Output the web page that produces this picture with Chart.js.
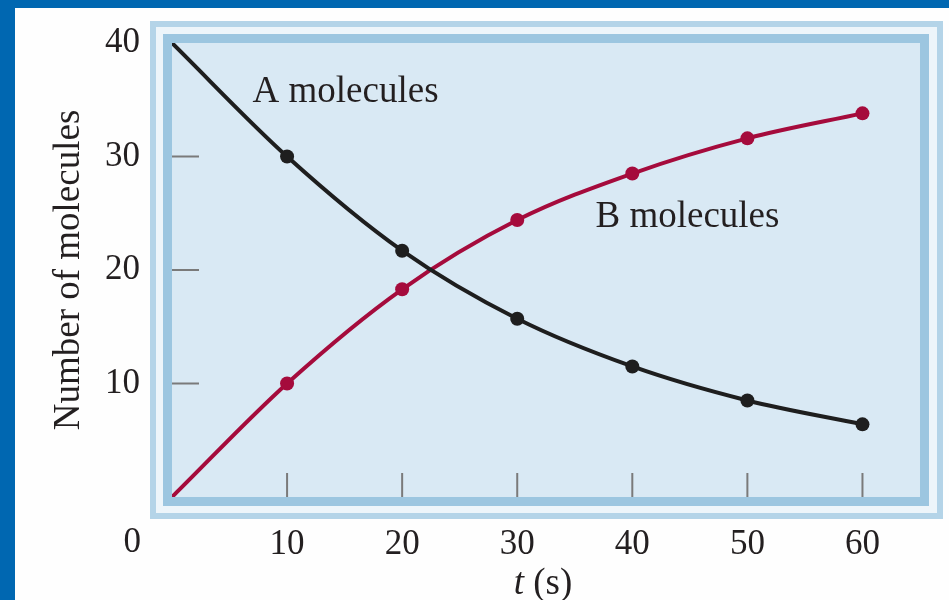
<!DOCTYPE html>
<html>
<head>
<meta charset="utf-8">
<title>Number of molecules</title>
<script src="https://cdn.jsdelivr.net/npm/chart.js@4.4.0/dist/chart.umd.min.js"></script>
<style>
    html, body { margin: 0; padding: 0; overflow: hidden; }
    body { width: 949px; height: 600px; background: #0067b1; position: relative; }
    #panel { position: absolute; left: 15px; top: 8px; width: 934px; height: 630px; background: #fefefe; }
    canvas { display: block; }
</style>
</head>
<body>
<div id="panel"><canvas id="moleculeChart" width="934" height="630"></canvas></div>
<script>
// values
const times = [0, 10, 20, 30, 40, 50, 60];
const aMolecules = [40, 30, 21.7, 15.7, 11.5, 8.5, 6.4];
const bMolecules = [0, 10, 18.3, 24.4, 28.5, 31.6, 33.8];
const xTickValues = [10, 20, 30, 40, 50, 60];
const yTickValues = [10, 20, 30, 40];
const seriesNames = ['A molecules', 'B molecules'];

const serif = '"Liberation Serif", "Times New Roman", serif';
const inkColor = '#231f20';

function toPoints(ys) {
    return times.map((t, i) => ({ x: t, y: ys[i] }));
}

// the framed light blue box behind the plot
const framePlugin = {
    id: 'frame',
    beforeDraw(chart) {
        const { ctx, chartArea } = chart;
        const { left, top, right, bottom } = chartArea;
        const w = right - left, h = bottom - top;
        ctx.save();
        ctx.fillStyle = '#b4d4e8';
        ctx.fillRect(left - 22, top - 22, w + 45, h + 44);
        ctx.fillStyle = '#edf5fa';
        ctx.fillRect(left - 16, top - 16, w + 33, h + 32);
        ctx.fillStyle = '#9cc6e0';
        ctx.fillRect(left - 9, top - 9, w + 18, h + 18);
        ctx.fillStyle = '#d9e9f4';
        ctx.fillRect(left, top, w, h);
        ctx.restore();
    },
    beforeDatasetsDraw(chart) {
        // short tick marks pointing into the plot
        const { ctx, chartArea, scales } = chart;
        ctx.save();
        ctx.strokeStyle = '#7a7a7a';
        ctx.lineWidth = 2;
        ctx.beginPath();
        yTickValues.filter(v => v < scales.y.max).forEach(v => {
            const y = scales.y.getPixelForValue(v);
            ctx.moveTo(chartArea.left, y);
            ctx.lineTo(chartArea.left + 27, y);
        });
        xTickValues.forEach(v => {
            const x = scales.x.getPixelForValue(v);
            ctx.moveTo(x, chartArea.bottom);
            ctx.lineTo(x, chartArea.bottom - 24);
        });
        ctx.stroke();
        ctx.restore();
    },
    afterDraw(chart) {
        const { ctx, chartArea, scales } = chart;
        ctx.save();
        ctx.fillStyle = inkColor;

        // series names inside the plot
        ctx.font = '37px ' + serif;
        ctx.textAlign = 'left';
        ctx.textBaseline = 'alphabetic';
        ctx.fillText(seriesNames[0], scales.x.getPixelForValue(7.0), scales.y.getPixelForValue(34.8));
        ctx.fillText(seriesNames[1], scales.x.getPixelForValue(36.8), scales.y.getPixelForValue(23.8));

        // the lone 0 at the corner
        ctx.font = '35px ' + serif;
        ctx.textAlign = 'right';
        ctx.textBaseline = 'middle';
        ctx.fillText('0', chartArea.left - 31, chartArea.bottom + 46);

        // x axis title: italic t, upright (s)
        const tPart = 't', sPart = ' (s)';
        ctx.textBaseline = 'alphabetic';
        ctx.textAlign = 'left';
        ctx.font = 'italic 37px ' + serif;
        const tW = ctx.measureText(tPart).width;
        ctx.font = '37px ' + serif;
        const sW = ctx.measureText(sPart).width;
        const cx = (chartArea.left + chartArea.right) / 2 - 3;
        const baseY = chartArea.bottom + 97;
        let x0 = cx - (tW + sW) / 2;
        ctx.font = 'italic 37px ' + serif;
        ctx.fillText(tPart, x0, baseY);
        ctx.font = '37px ' + serif;
        ctx.fillText(sPart, x0 + tW, baseY);
        ctx.restore();
    }
};

function markerSize(c) {
    return c.dataIndex === 0 ? 0 : 7;
}

const chart = new Chart(document.getElementById('moleculeChart'), {
    type: 'line',
    data: {
        datasets: [{
            label: seriesNames[0],
            data: toPoints(aMolecules),
            borderColor: '#1e1e1e',
            backgroundColor: '#1e1e1e',
            pointBackgroundColor: '#1e1e1e',
            borderWidth: 4,
            pointRadius: markerSize,
            pointBorderWidth: 0,
            cubicInterpolationMode: 'monotone'
        }, {
            label: seriesNames[1],
            data: toPoints(bMolecules),
            borderColor: '#a50b3c',
            backgroundColor: '#a50b3c',
            pointBackgroundColor: '#a50b3c',
            borderWidth: 4,
            pointRadius: markerSize,
            pointBorderWidth: 0,
            cubicInterpolationMode: 'monotone'
        }]
    },
    options: {
        responsive: false,
        animation: false,
        layout: { padding: { left: 0, top: 35, right: 29, bottom: 0 } },
        plugins: {
            legend: { display: false },
            tooltip: { enabled: false }
        },
        scales: {
            x: {
                type: 'linear',
                min: 0,
                max: 65,
                border: { display: false },
                grid: { display: false, drawTicks: false },
                afterBuildTicks: axis => { axis.ticks = xTickValues.map(v => ({ value: v })); },
                afterFit: axis => {
                    axis.height = 141;
                    axis.paddingLeft = 0;
                    axis.paddingRight = 0;
                },
                ticks: {
                    padding: 27,
                    color: inkColor,
                    font: { family: serif, size: 35 }
                }
            },
            y: {
                min: 0,
                max: 40,
                border: { display: false },
                grid: { display: false, drawTicks: false },
                afterBuildTicks: axis => { axis.ticks = yTickValues.map(v => ({ value: v })); },
                afterFit: axis => {
                    axis.width = 157;
                    axis.paddingTop = 0;
                    axis.paddingBottom = 0;
                },
                ticks: {
                    padding: 32,
                    color: inkColor,
                    font: { family: serif, size: 35 }
                },
                title: {
                    display: true,
                    text: 'Number of molecules',
                    color: inkColor,
                    padding: { top: 32, bottom: 0 },
                    font: { family: serif, size: 37 }
                }
            }
        }
    },
    plugins: [framePlugin]
});
</script>
</body>
</html>
